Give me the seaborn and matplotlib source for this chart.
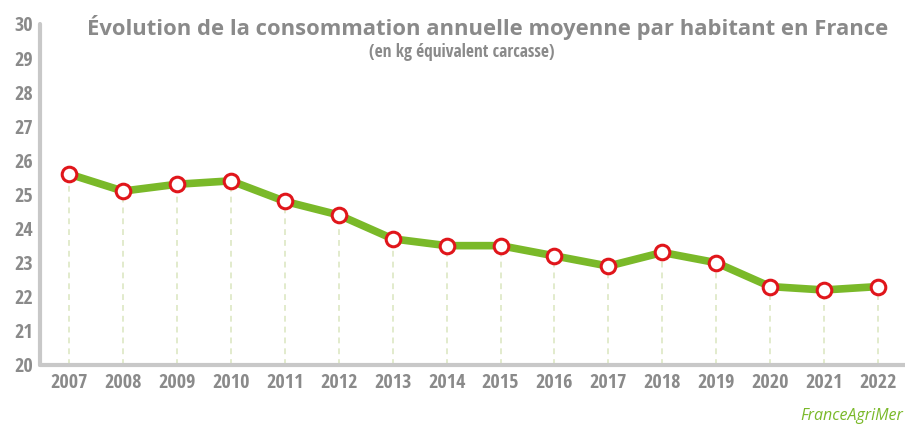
import matplotlib
matplotlib.use("Agg")
import matplotlib.pyplot as plt
import seaborn as sns
import pandas as pd

years = [2007, 2008, 2009, 2010, 2011, 2012, 2013, 2014, 2015, 2016, 2017, 2018, 2019, 2020, 2021, 2022]
consumption = [25.6, 25.1, 25.3, 25.4, 24.8, 24.4, 23.7, 23.5, 23.5, 23.2, 22.9, 23.3, 23.0, 22.3, 22.2, 22.3]
yticks = list(range(20, 31))

title = "Évolution de la consommation annuelle moyenne par habitant en France"
subtitle = "(en kg équivalent carcasse)"
source = "FranceAgriMer"

sns.set_theme(style="white")
plt.rcParams['font.family'] = ['Open Sans', 'DejaVu Sans']
COND = ['Open Sans Condensed', 'Asap Condensed', 'DejaVu Sans']

GREY = "#8a8a8a"
SPINE = "#c8c8c8"
GREEN = "#7ab929"
RED = "#e0161b"

df = pd.DataFrame({"idx": range(len(years)), "val": consumption})

fig = plt.figure(figsize=(9.05, 4.25), dpi=100)
ax = fig.add_axes([40 / 905, 1 - 365 / 425, 1 - 40 / 905, (365 - 24) / 425])

# dashed guides
ax.vlines(df["idx"], 20, df["val"], colors="#dde8c4", linestyles=(0, (3.5, 3)), linewidth=1.2, zorder=1)

sns.lineplot(data=df, x="idx", y="val", ax=ax, color=GREEN, linewidth=5.5, zorder=2,
             marker="o", markersize=10.5, markerfacecolor="white", markeredgecolor=RED,
             markeredgewidth=2.2, solid_capstyle="round")

ax.set_xlim(-0.54, len(years) - 0.5)
ax.set_ylim(20, 30)
ax.set_xticks(range(len(years)))
ax.set_xticklabels([str(y) for y in years])
ax.set_yticks(yticks)
ax.set_yticklabels([str(y) for y in yticks])
ax.set_xlabel("")
ax.set_ylabel("")

for s in ["top", "right"]:
    ax.spines[s].set_visible(False)
for s in ["left", "bottom"]:
    ax.spines[s].set_color(SPINE)
    ax.spines[s].set_linewidth(3)
    ax.spines[s].set_capstyle("round")

ax.tick_params(axis="both", direction="in", length=7, width=3, color=SPINE)
ax.tick_params(axis="x", pad=6)
ax.tick_params(axis="y", pad=5)
for lab in ax.get_xticklabels() + ax.get_yticklabels():
    lab.set_fontfamily(COND)
    lab.set_fontweight("bold")
    lab.set_fontsize(14.5)
    lab.set_color(GREY)

ax.grid(False)
ax.set_facecolor("white")
fig.patch.set_facecolor("white")

fig.text(488 / 905, 1 - 27 / 425, title, ha="center", va="center", fontsize=15.8,
         fontweight="bold", color=GREY, family=['Open Sans', 'DejaVu Sans'])
fig.text(462 / 905, 1 - 52 / 425, subtitle, ha="center", va="center", fontsize=12.5,
         fontweight="bold", color=GREY, family=COND)
fig.text(903 / 905, 1 - 416 / 425, source, ha="right", va="center", fontsize=11.5,
         style="italic", color=GREEN, family=['Open Sans', 'DejaVu Sans'])

fig.savefig("out.png", dpi=100, facecolor="white")
